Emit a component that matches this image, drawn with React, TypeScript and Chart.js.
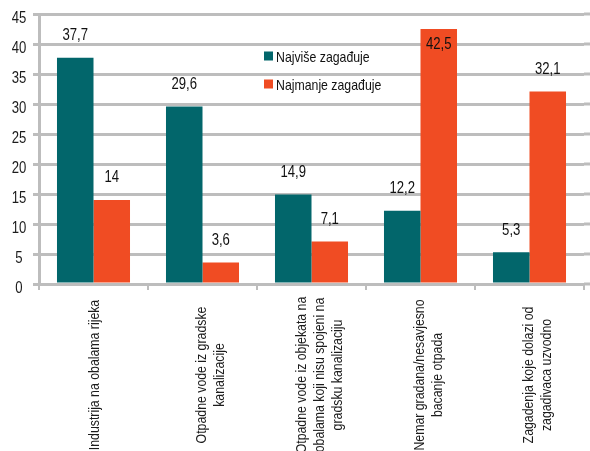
import React, { useEffect, useRef } from "react";
import { Chart, registerables } from "chart.js";

Chart.register(...registerables);

const categories: string[][] = [
  ["Industrija na obalama rijeka"],
  ["Otpadne vode iz gradske", "kanalizacije"],
  ["Otpadne vode iz objekata na", "obalama koji nisu spojeni na", "gradsku kanalizaciju"],
  ["Nemar gradana/nesavjesno", "bacanje otpada"],
  ["Zagadenja koje dolazi od", "zagadivaca uzvodno"],
];
const seriesNames = ["Najviše zagađuje", "Najmanje zagađuje"];
const najvise = [37.7, 29.6, 14.9, 12.2, 5.3];
const najmanje = [14, 3.6, 7.1, 42.5, 32.1];
const yMin = 0;
const yMax = 45;
const yStep = 5;

const TEAL = "#02666b";
const ORANGE = "#f04c23";
const GRID = "#bdbdbd";

let fontInfo: { family: string; sx: number } | null = null;
function getFont(ctx: CanvasRenderingContext2D) {
  if (fontInfo) return fontInfo;
  const probe = "abcdefghijklmnopqrstuvwxyz0123456789";
  ctx.save();
  ctx.font = "40px monospace";
  const base = ctx.measureText(probe).width;
  ctx.font = '40px "Liberation Sans Narrow", monospace';
  const w = ctx.measureText(probe).width;
  ctx.restore();
  fontInfo = Math.abs(w - base) > 0.5
    ? { family: '"Liberation Sans Narrow"', sx: 1 }
    : { family: '"Liberation Sans", Arial, sans-serif', sx: 0.82 };
  return fontInfo;
}

function drawText(
  ctx: CanvasRenderingContext2D,
  text: string,
  x: number,
  y: number,
  size: number,
  align: CanvasTextAlign,
  color: string,
  rot = 0
) {
  const f = getFont(ctx);
  ctx.save();
  ctx.translate(x, y);
  if (rot) ctx.rotate(rot);
  ctx.scale(f.sx, 1);
  ctx.font = `${size}px ${f.family}`;
  ctx.fillStyle = color;
  ctx.textAlign = align;
  ctx.textBaseline = "middle";
  ctx.fillText(text, 0, 0);
  ctx.restore();
}

const customDraw = {
  id: "customDraw",
  beforeDatasetsDraw(chart: any) {
    const ctx = chart.ctx as CanvasRenderingContext2D;
    const yScale = chart.scales.y;
    const area = chart.chartArea;
    // extend gridlines slightly to the right edge
    ctx.save();
    ctx.strokeStyle = GRID;
    ctx.lineWidth = 3;
    yScale.ticks.forEach((t: any) => {
      const py = yScale.getPixelForValue(t.value);
      ctx.beginPath();
      ctx.moveTo(area.right, py);
      ctx.lineTo(chart.width, py);
      ctx.stroke();
    });
    ctx.restore();
  },
  afterDatasetsDraw(chart: any) {
    const ctx = chart.ctx as CanvasRenderingContext2D;
    const yScale = chart.scales.y;
    const xScale = chart.scales.x;
    const area = chart.chartArea;

    // y tick labels
    yScale.ticks.forEach((t: any) => {
      const py = yScale.getPixelForValue(t.value);
      drawText(ctx, String(t.value), 19, py + 5, 16, "center", "#1c1c1c");
    });

    // x category labels (rotated)
    categories.forEach((lines, i) => {
      const cx = xScale.getPixelForValue(i);
      const blockCenter = cx + (lines.length > 1 ? 8 : 1.5);
      const spacing = 18;
      lines.forEach((ln, j) => {
        const off = (j - (lines.length - 1) / 2) * spacing;
        drawText(ctx, ln, blockCenter + off, area.bottom + 91, 15, "center", "#1c1c1c", -Math.PI / 2);
      });
    });

    // value labels
    chart.data.datasets.forEach((ds: any, di: number) => {
      const meta = chart.getDatasetMeta(di);
      meta.data.forEach((el: any, i: number) => {
        const v = ds.data[i];
        let ly = el.y - 22;
        if (ly < area.top + 10) ly = el.y + 16;
        drawText(ctx, String(v).replace(".", ","), el.x, ly, 16, "center", "#111");
      });
    });

    // legend
    const lx = 264;
    const rows = [56, 84];
    chart.data.datasets.forEach((ds: any, di: number) => {
      const cy = rows[di];
      ctx.fillStyle = ds.backgroundColor;
      ctx.fillRect(lx, cy - 4.5, 9, 9);
      drawText(ctx, ds.label, lx + 12, cy + 1.5, 15, "left", "#111");
    });
  },
};

export default function App() {
  const ref = useRef<HTMLCanvasElement | null>(null);
  useEffect(() => {
    document.body.style.margin = "0";
    const canvas = ref.current;
    if (!canvas) return;
    const chart = new Chart(canvas, {
      type: "bar",
      data: {
        labels: categories.map((c) => c.join(" ")),
        datasets: [
          {
            label: seriesNames[0],
            data: najvise,
            backgroundColor: TEAL,
            categoryPercentage: 0.67,
            barPercentage: 1,
          },
          {
            label: seriesNames[1],
            data: najmanje,
            backgroundColor: ORANGE,
            categoryPercentage: 0.67,
            barPercentage: 1,
          },
        ],
      },
      options: {
        animation: false,
        responsive: true,
        maintainAspectRatio: false,
        layout: { padding: { top: 14, right: 6, left: 0, bottom: 0 } },
        plugins: {
          legend: { display: false },
          tooltip: { enabled: false },
          title: { display: false },
        },
        scales: {
          x: {
            offset: true,
            ticks: { display: false },
            grid: {
              offset: true,
              drawOnChartArea: false,
              drawTicks: true,
              tickLength: 6,
              color: GRID,
              lineWidth: 2,
            },
            border: { color: GRID, width: 3 },
            afterFit: (s: any) => {
              s.height = 167;
            },
          },
          y: {
            min: yMin,
            max: yMax,
            ticks: { display: false, stepSize: yStep },
            grid: { color: GRID, lineWidth: 3, tickLength: 6, drawTicks: true },
            border: { color: GRID, width: 3 },
            afterFit: (s: any) => {
              s.width = 39;
            },
          },
        },
      },
      plugins: [customDraw],
    });
    return () => chart.destroy();
  }, []);
  return (
    <div style={{ position: "fixed", left: 0, top: 0, width: 590, height: 451, background: "#fff" }}>
      <canvas ref={ref} />
    </div>
  );
}
